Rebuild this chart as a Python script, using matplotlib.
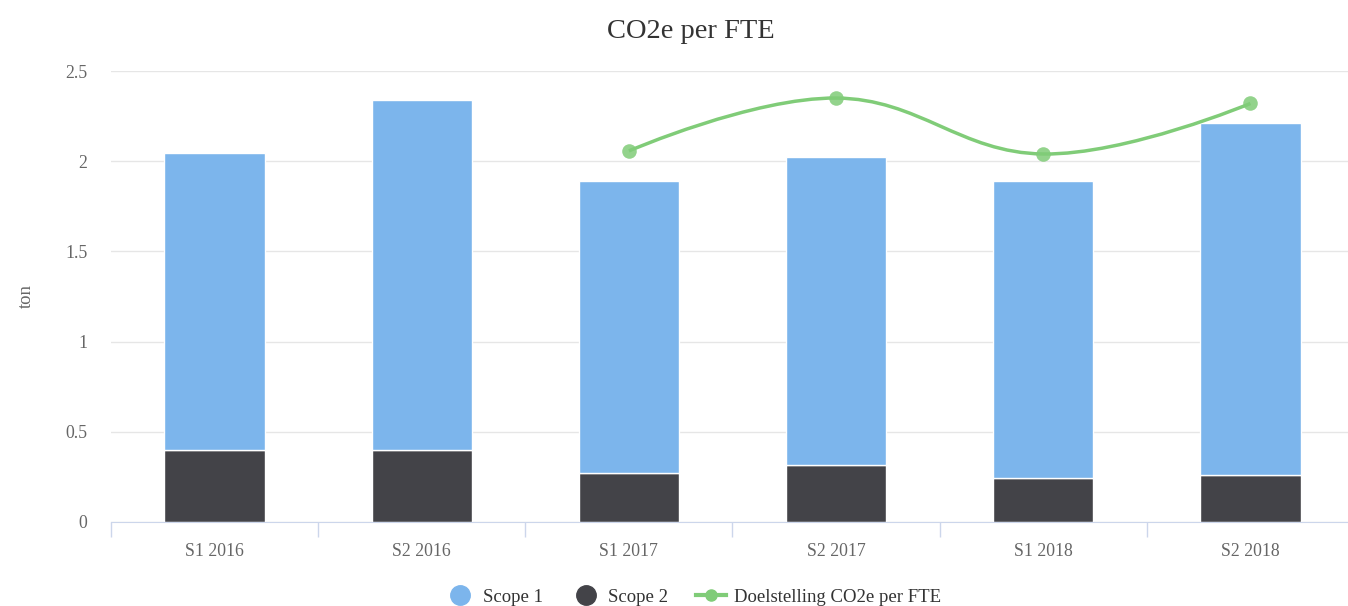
import matplotlib.pyplot as plt
from matplotlib.lines import Line2D
from matplotlib.path import Path
from matplotlib.patches import PathPatch
import numpy as np

plt.rcParams['font.family'] = ['Liberation Serif', 'DejaVu Serif']

categories = ['S1 2016', 'S2 2016', 'S1 2017', 'S2 2017', 'S1 2018', 'S2 2018']
scope2 = [0.40, 0.40, 0.27, 0.315, 0.245, 0.26]
scope1 = [1.645, 1.94, 1.62, 1.708, 1.645, 1.95]
target_idx = [2, 3, 4, 5]
target = [2.057, 2.35, 2.04, 2.32]

c1 = '#7cb5ec'
c2 = '#434348'
cg = '#80cc78'


def spline_path(xs, ys, smoothing=1.5):
    # highcharts-like spline control points
    verts = [(xs[0], ys[0])]
    codes = [Path.MOVETO]
    n = len(xs)
    ctrl = []
    for i in range(n):
        if i == 0 or i == n - 1:
            ctrl.append(((xs[i], ys[i]), (xs[i], ys[i])))
            continue
        lx = (smoothing * xs[i] + xs[i - 1]) / (smoothing + 1)
        ly = (smoothing * ys[i] + ys[i - 1]) / (smoothing + 1)
        rx = (smoothing * xs[i] + xs[i + 1]) / (smoothing + 1)
        ry = (smoothing * ys[i] + ys[i + 1]) / (smoothing + 1)
        if rx != lx:
            corr = ((ry - ly) * (rx - xs[i])) / (rx - lx) + ys[i] - ry
            ly += corr
            ry += corr
        ctrl.append(((lx, ly), (rx, ry)))
    for i in range(1, n):
        verts += [ctrl[i - 1][1], ctrl[i][0], (xs[i], ys[i])]
        codes += [Path.CURVE4] * 3
    return Path(verts, codes)


fig = plt.figure(figsize=(13.48, 6.06), dpi=100)
ax = fig.add_axes([111 / 1348, 1 - 522 / 606, 1243 / 1348, 451 / 606])

x = np.arange(len(categories))
ax.bar(x, scope2, width=0.485, color=c2, edgecolor='white', linewidth=1, zorder=2)
ax.bar(x, scope1, width=0.485, bottom=scope2, color=c1, edgecolor='white', linewidth=1, zorder=2)

path = spline_path(list(x[target_idx].astype(float)), target)
ax.add_patch(PathPatch(path, facecolor='none', edgecolor=cg, linewidth=2.5, zorder=3))
ax.scatter(x[target_idx], target, s=110, color=cg, alpha=0.85, zorder=4, linewidths=0)

ax.set_xlim(-0.5, 5.5)
ax.set_ylim(0, 2.5)
ax.set_yticks([0, 0.5, 1, 1.5, 2, 2.5])
ax.set_yticklabels(['0', '0.5', '1', '1.5', '2', '2.5'])
ax.set_xticks(x)
ax.set_xticklabels(categories)
ax.set_xticks(np.arange(-0.5, 6, 1), minor=True)
ax.tick_params(axis='x', which='major', length=0, pad=15, labelsize=12.8, labelcolor='#666666')
ax.tick_params(axis='x', which='minor', length=11, color='#ccd6eb', width=1)
ax.tick_params(axis='y', length=0, pad=17, labelsize=12.8, labelcolor='#666666')
ax.grid(axis='y', color='#e6e6e6', linewidth=1, zorder=0)
ax.set_axisbelow(True)
for s in ['top', 'right', 'left']:
    ax.spines[s].set_visible(False)
ax.spines['bottom'].set_color('#ccd6eb')
ax.set_ylabel('ton', fontsize=13.5, color='#666666', labelpad=22)

fig.text(691 / 1348, 1 - 31 / 606, 'CO2e per FTE', ha='center', va='center', fontsize=20.5, color='#333333')

handles = [
    Line2D([], [], marker='o', linestyle='none', markersize=14, color=c1),
    Line2D([], [], marker='o', linestyle='none', markersize=14, color=c2),
    Line2D([], [], marker='o', linestyle='-', markersize=8, color=cg, linewidth=3),
]
fig.legend(handles, ['Scope 1', 'Scope 2', 'Doelstelling CO2e per FTE'], loc='center',
           bbox_to_anchor=(693 / 1348, 1 - 597 / 606), ncol=3, frameon=False,
           fontsize=13.5, labelcolor='#333333', handlelength=1.6, columnspacing=1.5, handletextpad=0.4)

fig.savefig('out.png', dpi=100)
